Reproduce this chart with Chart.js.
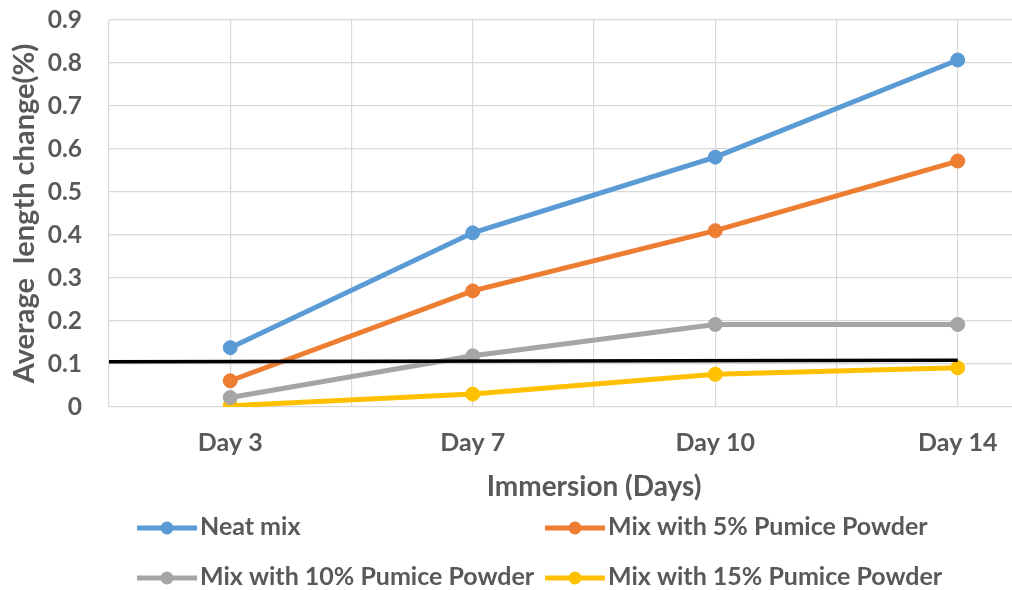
<!DOCTYPE html>
<html>
<head>
<meta charset="utf-8">
<script src="https://cdn.jsdelivr.net/npm/chart.js@4/dist/chart.umd.min.js"></script>
<style>
  html, body { margin: 0; padding: 0; overflow: hidden; background: #fff; width: 1012px; height: 590px; }
  #wrap { width: 1100px; height: 590px; }
</style>
</head>
<body>
<div id="wrap"><canvas id="c" width="1100" height="590"></canvas></div>
<script>
const categories = ['Day 3', 'Day 7', 'Day 10', 'Day 14'];
const yTickLabels = ['0', '0.1', '0.2', '0.3', '0.4', '0.5', '0.6', '0.7', '0.8', '0.9'];
const seriesNames = ['Neat mix', 'Mix with 5% Pumice Powder', 'Mix with 10% Pumice Powder', 'Mix with 15% Pumice Powder'];
const neatMix = [0.138, 0.405, 0.581, 0.807];
const mix5 = [0.061, 0.270, 0.410, 0.572];
const mix10 = [0.022, 0.119, 0.192, 0.192];
const mix15 = [0.003, 0.030, 0.076, 0.091];
const refLineX = [-0.5, 3];
const refLineY = [0.105, 0.109];
const seriesColors = ['#5B9BD5', '#ED7D31', '#A5A5A5', '#FFC000'];

const FONT = 'Lato, "Liberation Sans", sans-serif';
const TEXT = '#595959';

const allSeries = [neatMix, mix5, mix10, mix15];
const seriesDatasets = allSeries.map((vals, i) => ({
  label: seriesNames[i],
  data: vals.map((v, k) => ({ x: k, y: v })),
  borderColor: seriesColors[i],
  backgroundColor: seriesColors[i],
  borderWidth: 5,
  pointRadius: 7,
  pointBorderWidth: 1,
  pointBorderColor: seriesColors[i],
  pointBackgroundColor: seriesColors[i],
  tension: 0
}));
const refDataset = {
  label: 'ref',
  data: refLineX.map((x, k) => ({ x: x, y: refLineY[k] })),
  borderColor: '#000000',
  borderWidth: 3.5,
  pointRadius: 0,
  tension: 0
};

const customLegend = {
  id: 'customLegend',
  afterDraw(chart) {
    const ctx = chart.ctx;
    const cols = [137, 545];
    const rows = [528, 578];
    ctx.save();
    seriesNames.forEach((name, i) => {
      const x0 = cols[i % 2];
      const y = rows[Math.floor(i / 2)];
      ctx.strokeStyle = seriesColors[i];
      ctx.lineWidth = 5;
      ctx.beginPath();
      ctx.moveTo(x0, y);
      ctx.lineTo(x0 + 60, y);
      ctx.stroke();
      ctx.fillStyle = seriesColors[i];
      ctx.beginPath();
      ctx.arc(x0 + 30, y, 6.5, 0, Math.PI * 2);
      ctx.fill();
      ctx.fillStyle = TEXT;
      ctx.font = 'bold 25px ' + FONT;
      ctx.textAlign = 'left';
      ctx.textBaseline = 'middle';
      ctx.fillText(name, x0 + 63, y - 1);
    });
    ctx.restore();
  }
};

new Chart(document.getElementById('c'), {
  type: 'line',
  data: { datasets: [refDataset].concat(seriesDatasets) },
  options: {
    responsive: false,
    animation: false,
    layout: { padding: { top: 0, left: 0, right: 4, bottom: 86 } },
    plugins: { legend: { display: false }, tooltip: { enabled: false } },
    scales: {
      x: {
        type: 'linear',
        min: -0.5,
        max: 3.5,
        afterBuildTicks(scale) {
          const t = [];
          for (let v = -0.5; v <= 3.5001; v += 0.5) t.push({ value: v });
          scale.ticks = t;
        },
        afterFit(scale) { scale.height = 97; },
        grid: { color: '#d9d9d9', lineWidth: 1.2, drawTicks: false },
        border: { display: false },
        ticks: {
          autoSkip: false,
          maxRotation: 0,
          padding: 21,
          color: TEXT,
          font: { family: FONT, size: 25, weight: 'bold' },
          callback(v) { return Number.isInteger(v) ? categories[v] : ''; }
        },
        title: {
          display: true,
          text: 'Immersion (Days)',
          color: TEXT,
          font: { family: FONT, size: 28, weight: 'bold' },
          padding: { top: 0, bottom: 0 }
        }
      },
      y: {
        type: 'linear',
        min: 0,
        max: 0.9,
        afterBuildTicks(scale) {
          scale.ticks = yTickLabels.map((s, i) => ({ value: i / 10 }));
        },
        afterFit(scale) {
          scale.width = 109;
          scale.paddingTop = 20;
          scale.paddingBottom = 0;
        },
        grid: { color: '#d9d9d9', lineWidth: 1.2, drawTicks: false },
        border: { display: false },
        ticks: {
          padding: 27,
          color: TEXT,
          font: { family: FONT, size: 24.5, weight: 'bold' },
          callback(v, i) { return yTickLabels[i]; }
        },
        title: {
          display: true,
          text: 'Average  length change(%)',
          color: TEXT,
          font: { family: FONT, size: 29, weight: 'bold' },
          padding: { top: 7, bottom: 0 }
        }
      }
    }
  },
  plugins: [customLegend]
});
</script>
</body>
</html>
